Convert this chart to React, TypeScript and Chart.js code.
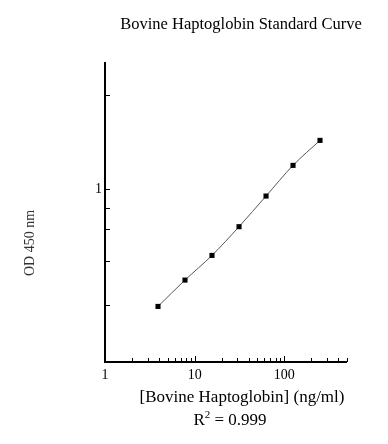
import React, { useEffect, useRef } from "react";
import { Chart, registerables } from "chart.js";

Chart.register(...registerables);

const TITLE = "Bovine Haptoglobin Standard Curve";
const X_TITLE = "[Bovine Haptoglobin] (ng/ml)";
const Y_TITLE = "OD 450 nm";
const R2_VALUE = "0.999";

const CONCENTRATIONS = [3.9, 7.8, 15.6, 31.25, 62.5, 125, 250];
const OD_VALUES = [0.242, 0.333, 0.449, 0.636, 0.922, 1.337, 1.81];

const X_MAJOR_TICKS = [1, 10, 100];
const X_MINOR_TICKS = [2, 3, 4, 5, 6, 7, 8, 9, 20, 30, 40, 50, 60, 70, 80, 90, 200, 300, 400, 500];
const X_TICK_LABELS = ["1", "10", "100"];
const Y_TICKS = [3.13, 1, 0.8, 0.616, 0.42, 0.245];
const Y_LABELED_TICKS = [1];
const Y_TICK_LABELS = ["1"];

const X_MIN = 1;
const X_MAX = 500;
const Y_MIN = 0.1234;
const Y_MAX = 4.68;

const FONT = "'Liberation Serif', 'Times New Roman', serif";

const axesPlugin = {
  id: "customAxes",
  afterDraw(chart: any) {
    const ctx = chart.ctx as CanvasRenderingContext2D;
    const { left, right, top, bottom } = chart.chartArea;
    const xs = chart.scales.x;
    const ys = chart.scales.y;
    ctx.save();
    ctx.strokeStyle = "#000";
    // axis lines
    ctx.lineWidth = 2;
    ctx.beginPath();
    ctx.moveTo(left, top);
    ctx.lineTo(left, bottom);
    ctx.lineTo(right, bottom);
    ctx.stroke();
    // y ticks
    ctx.lineWidth = 1;
    ctx.beginPath();
    for (const v of Y_TICKS) {
      const y = Math.round(ys.getPixelForValue(v)) + 0.5;
      ctx.moveTo(left, y);
      ctx.lineTo(left + 5, y);
    }
    // x ticks
    for (const v of X_MAJOR_TICKS) {
      const x = Math.round(xs.getPixelForValue(v)) + 0.5;
      ctx.moveTo(x, bottom);
      ctx.lineTo(x, bottom - 6);
    }
    for (const v of X_MINOR_TICKS) {
      const x = Math.round(xs.getPixelForValue(v)) + 0.5;
      ctx.moveTo(x, bottom);
      ctx.lineTo(x, bottom - 4);
    }
    ctx.stroke();

    ctx.fillStyle = "#000";
    // tick labels
    ctx.font = `14px ${FONT}`;
    ctx.textAlign = "center";
    ctx.textBaseline = "middle";
    X_MAJOR_TICKS.forEach((v, i) => {
      ctx.fillText(X_TICK_LABELS[i], xs.getPixelForValue(v), bottom + 13);
    });
    ctx.textAlign = "right";
    Y_LABELED_TICKS.forEach((v, i) => {
      ctx.fillText(Y_TICK_LABELS[i], left - 3, ys.getPixelForValue(v));
    });

    // title
    ctx.font = `16.5px ${FONT}`;
    ctx.textAlign = "center";
    ctx.textBaseline = "alphabetic";
    ctx.fillText(TITLE, (left + right) / 2 + 15, 29);

    // x title
    const xc = (left + right) / 2 + 16;
    ctx.font = `17px ${FONT}`;
    ctx.textBaseline = "middle";
    ctx.fillText(X_TITLE, xc, bottom + 36);

    // R^2 line
    const rc = xc - 12;
    const base = "R";
    const sup = "2";
    const rest = " = " + R2_VALUE;
    ctx.font = `17px ${FONT}`;
    const wBase = ctx.measureText(base).width;
    const wRest = ctx.measureText(rest).width;
    ctx.font = `11px ${FONT}`;
    const wSup = ctx.measureText(sup).width;
    const total = wBase + wSup + wRest;
    let sx = rc - total / 2;
    const yBase = bottom + 63;
    ctx.textAlign = "left";
    ctx.textBaseline = "alphabetic";
    ctx.font = `17px ${FONT}`;
    ctx.fillText(base, sx, yBase);
    sx += wBase;
    ctx.font = `11px ${FONT}`;
    ctx.fillText(sup, sx, yBase - 7);
    sx += wSup;
    ctx.font = `17px ${FONT}`;
    ctx.fillText(rest, sx, yBase);

    // y title
    ctx.save();
    ctx.translate(30, (top + bottom) / 2 + 31);
    ctx.rotate(-Math.PI / 2);
    ctx.fillStyle = "#333";
    ctx.font = `14px ${FONT}`;
    ctx.textAlign = "center";
    ctx.textBaseline = "middle";
    ctx.fillText(Y_TITLE, 0, 0);
    ctx.restore();

    ctx.restore();
  },
};

export default function App() {
  const canvasRef = useRef<HTMLCanvasElement | null>(null);

  useEffect(() => {
    const canvas = canvasRef.current;
    if (!canvas) return;
    const chart = new Chart(canvas, {
      type: "line",
      data: {
        datasets: [
          {
            data: CONCENTRATIONS.map((c, i) => ({ x: c, y: OD_VALUES[i] })),
            borderColor: "#555",
            borderWidth: 1,
            pointStyle: "rect",
            pointRadius: 3.6,
            pointBackgroundColor: "#000",
            pointBorderColor: "#000",
            pointBorderWidth: 0,
            cubicInterpolationMode: "monotone",
            fill: false,
          },
        ],
      },
      options: {
        responsive: false,
        animation: false,
        layout: { padding: { left: 105, right: 41, top: 62, bottom: 82 } },
        plugins: {
          legend: { display: false },
          tooltip: { enabled: false },
          title: { display: false },
        },
        scales: {
          x: { type: "logarithmic", display: false, min: X_MIN, max: X_MAX },
          y: { type: "logarithmic", display: false, min: Y_MIN, max: Y_MAX },
        },
      },
      plugins: [axesPlugin],
    });
    return () => chart.destroy();
  }, []);

  return (
    <div style={{ position: "absolute", left: 0, top: 0, width: 388, height: 444, background: "#fff" }}>
      <canvas ref={canvasRef} width={388} height={444} style={{ display: "block" }} />
    </div>
  );
}
